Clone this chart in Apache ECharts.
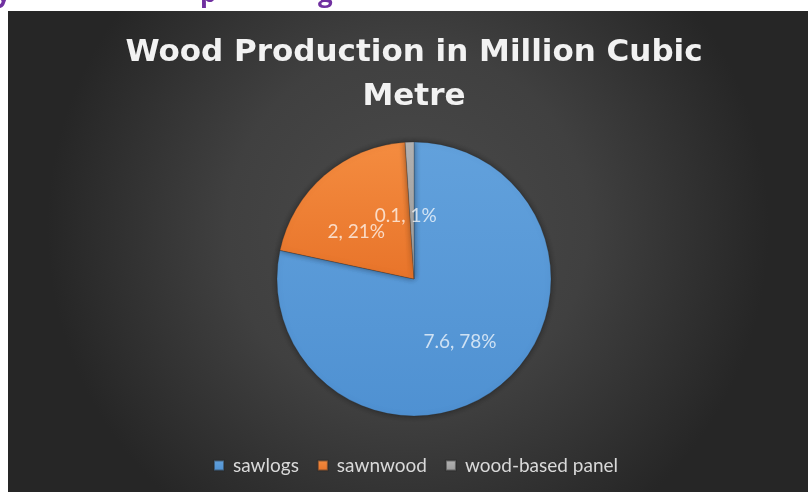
<!DOCTYPE html>
<html>
<head>
<meta charset="utf-8">
<script src="https://cdn.jsdelivr.net/npm/echarts@6/dist/echarts.min.js"></script>
<style>
  html, body { margin: 0; padding: 0; background: #ffffff; }
  #chart { width: 808px; height: 492px; }
</style>
</head>
<body>
<div id="chart"></div>
<script>
// Wood production split (million cubic metres)
const categories = ['sawlogs', 'sawnwood', 'wood-based panel'];
const values = [7.6, 2, 0.1];
const percents = [78, 21, 1];
const titleText = 'Wood Production in Million Cubic\nMetre';
const sliceColors = [
  ['#62a1dc', '#4f91d2'],
  ['#f48c40', '#e8742a'],
  ['#b4b4b4', '#9c9c9c']
];
// small nudges so the in-slice labels sit where they read best
const labelOffsets = [[1, 7], [-11, 7], [-6, 8]];

const chart = echarts.init(document.getElementById('chart'), null, { renderer: 'canvas' });

const pieData = categories.map((name, i) => ({
  name: name,
  value: values[i],
  label: { offset: labelOffsets[i] },
  itemStyle: {
    color: new echarts.graphic.LinearGradient(0, 0, 0, 1, [
      { offset: 0, color: sliceColors[i][0] },
      { offset: 1, color: sliceColors[i][1] }
    ])
  }
}));

// descenders of the page heading that sits above the chart frame
const headingBits = [['y', -4], ['p', 200], ['g', 318]].map(([ch, x]) => ({
  type: 'text',
  x: x,
  y: -18,
  style: {
    text: ch,
    fill: '#7030a0',
    font: 'bold 26px "Open Sans"'
  }
}));

chart.setOption({
  backgroundColor: '#ffffff',
  animation: false,
  graphic: [
    {
      type: 'rect',
      z: -10,
      shape: { x: 8, y: 11, width: 800, height: 481 },
      style: {
        fill: new echarts.graphic.RadialGradient(0.5, 0.45, 0.75, [
          { offset: 0, color: '#4a4a4a' },
          { offset: 0.5, color: '#404040' },
          { offset: 1, color: '#262626' }
        ])
      }
    },
    {
      type: 'text',
      x: 414,
      y: 31,
      style: {
        text: titleText,
        fill: '#f2f2f2',
        font: 'bold 31px "DejaVu Sans"',
        lineHeight: 44,
        align: 'center',
        shadowColor: 'rgba(0,0,0,0.7)',
        shadowBlur: 4,
        shadowOffsetY: 2
      }
    }
  ].concat(headingBits),
  legend: {
    bottom: 12,
    left: 208,
    icon: 'rect',
    itemWidth: 10,
    itemHeight: 10,
    itemGap: 18,
    selectedMode: false,
    textStyle: { color: '#d9d9d9', fontFamily: 'Lato', fontSize: 19, padding: [0, 0, 0, 4] },
    data: categories
  },
  series: [
    {
      type: 'pie',
      center: [414, 279],
      radius: 137,
      startAngle: 90,
      clockwise: true,
      avoidLabelOverlap: false,
      data: pieData,
      itemStyle: {
        borderColor: 'rgba(40,40,40,0.5)',
        borderWidth: 0.5,
        shadowColor: 'rgba(0,0,0,0.45)',
        shadowBlur: 6
      },
      label: {
        show: true,
        position: 'inside',
        color: 'rgba(255,255,255,0.72)',
        fontFamily: 'Lato',
        fontSize: 19,
        formatter: p => p.value + ', ' + percents[p.dataIndex] + '%'
      },
      labelLayout: { hideOverlap: false },
      labelLine: { show: false },
      emphasis: { disabled: true }
    }
  ]
});
</script>
</body>
</html>
